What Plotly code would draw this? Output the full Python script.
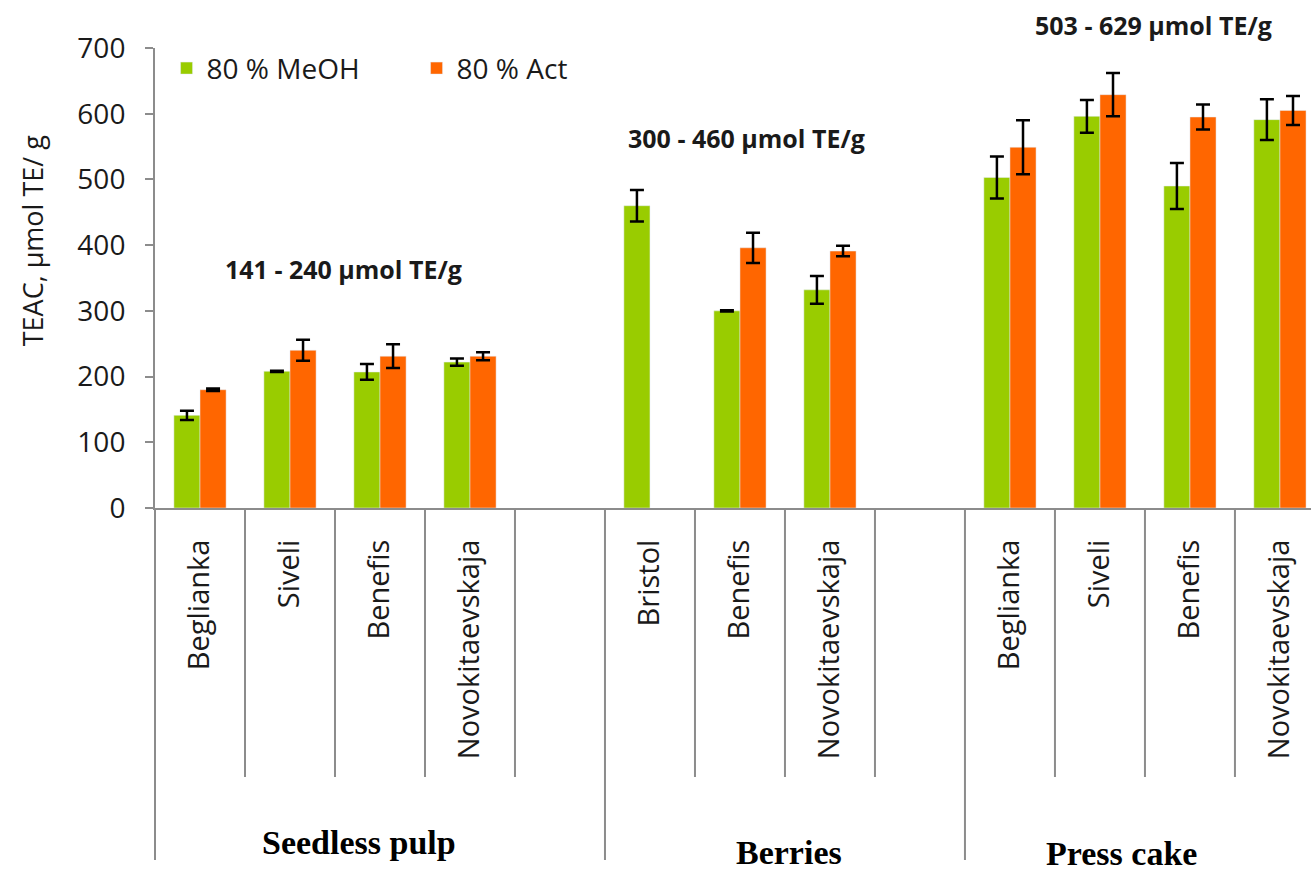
import plotly.graph_objects as go

# Slot layout along the category axis (empty strings are spacer slots between groups)
varieties = ["Beglianka", "Siveli", "Benefis", "Novokitaevskaja", "",
             "Bristol", "Benefis", "Novokitaevskaja", "",
             "Beglianka", "Siveli", "Benefis", "Novokitaevskaja"]
groups = ["Seedless pulp", "Berries", "Press cake"]
group_bounds = [(-0.5, 4.5), (4.5, 8.5), (8.5, 12.5)]
group_label_pos = [(1.77, -0.728), (6.54, -0.748), (10.24, -0.752)]

# TEAC values (µmol TE/g) and standard deviations
meoh = [141, 208, 207, 222, None, 460, 300, 332, None, 503, 596, 490, 591]
meoh_err = [7, 1, 12, 5.5, 0, 24, 1, 21, 0, 32, 25, 35, 31]
act = [180, 240, 231, 231, None, None, 396, 391, None, 549, 629, 595, 605]
act_err = [2, 16, 18, 6, 0, 0, 23, 8, 0, 41, 33, 19, 22]

ranges = ["141 - 240 μmol TE/g", "300 - 460 μmol TE/g", "503 - 629 μmol TE/g"]
range_pos = [(1.6, 0.52), (6.07, 0.805), (10.6, 1.05)]

y_ticks = [0, 100, 200, 300, 400, 500, 600, 700]

GREEN = "#99CC00"
ORANGE = "#FF6600"
AXIS = "#8c8c8c"
FONT = "Open Sans"
TEXT = "#1a1a1a"

slots = list(range(len(varieties)))

fig = go.Figure()
fig.add_trace(go.Bar(
    x=slots, y=meoh, name="80 % MeOH", marker_color=GREEN,
    error_y=dict(type="data", array=meoh_err, color="black", thickness=2.5, width=7),
))
fig.add_trace(go.Bar(
    x=slots, y=act, name="80 % Act", marker_color=ORANGE,
    error_y=dict(type="data", array=act_err, color="black", thickness=2.5, width=7),
))

shapes = []
# short dividers between varieties, long dividers between groups
group_edges = {b for pair in group_bounds for b in pair}
for k in range(len(varieties) + 1):
    xb = k - 0.5
    is_group_edge = xb in group_edges
    shapes.append(dict(
        type="line", xref="x", yref="paper", x0=xb, x1=xb,
        y0=0, y1=-0.765 if is_group_edge else -0.585,
        line=dict(color=AXIS, width=2),
    ))
shapes[0].update(xref="paper", x0=0, x1=0)

annotations = []
for g, (gx, gy) in zip(groups, group_label_pos):
    annotations.append(dict(
        text=g, x=gx, y=gy, xref="x", yref="paper", showarrow=False,
        font=dict(family="Liberation Serif", size=34, color="black", weight="bold"),
        xanchor="center", yanchor="middle", borderpad=0,
    ))
for txt, (ax, ay) in zip(ranges, range_pos):
    annotations.append(dict(
        text=f"<b>{txt}</b>", x=ax, y=ay, xref="x", yref="paper", showarrow=False,
        font=dict(family=FONT, size=25, color=TEXT),
        xanchor="center", yanchor="middle",
    ))
# y-axis caption
annotations.append(dict(
    text="TEAC, μmol TE/ g", x=-0.106, y=0.583, xref="paper", yref="paper",
    showarrow=False, textangle=-90, xanchor="center", yanchor="middle",
    font=dict(family=FONT, size=27, color=TEXT),
))

fig.update_layout(
    width=1311, height=875,
    margin=dict(l=155, r=0, t=48, b=367),
    paper_bgcolor="white", plot_bgcolor="white",
    barmode="group", bargap=0.42, bargroupgap=0,
    font=dict(family=FONT, size=28, color=TEXT),
    showlegend=True,
    legend=dict(
        orientation="h", x=0.01, y=1.01, xanchor="left", yanchor="top",
        font=dict(family=FONT, size=28, color=TEXT),
        entrywidth=205, entrywidthmode="pixels",
        bgcolor="rgba(0,0,0,0)",
    ),
    xaxis=dict(
        range=[-0.5, 12.345], tickmode="array", tickvals=slots, ticktext=varieties,
        tickangle=-90, showline=True, linecolor=AXIS, linewidth=2,
        ticks="", showgrid=False, zeroline=False, ticklabelstandoff=18,
        tickfont=dict(family=FONT, size=29, color=TEXT),
    ),
    yaxis=dict(
        range=[0, 700], tickvals=y_ticks, showline=True, linecolor=AXIS, linewidth=2,
        ticks="outside", ticklen=8, tickcolor=AXIS, tickwidth=2,
        showgrid=False, zeroline=False, ticklabelstandoff=14,
        tickfont=dict(family=FONT, size=28, color=TEXT),
    ),
    shapes=shapes, annotations=annotations,
)

fig.write_html("out.html")
